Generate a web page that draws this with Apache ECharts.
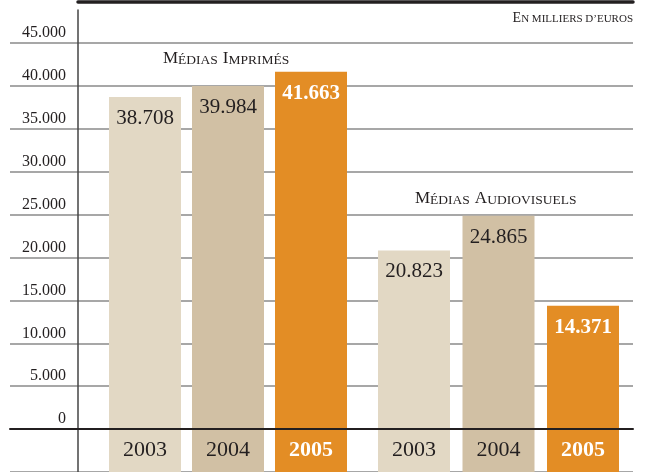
<!DOCTYPE html>
<html>
<head>
<meta charset="utf-8">
<script src="https://cdn.jsdelivr.net/npm/echarts@6/dist/echarts.min.js"></script>
<style>
  html, body { margin: 0; padding: 0; background: #fff; }
  #chart { width: 649px; height: 472px; }
</style>
</head>
<body>
<div id="chart"></div>
<script>
  // valeurs en milliers d'euros
  const years = ['2003', '2004', '2005']
  const imprimes = [38708, 39984, 41663]
  const audiovisuels = [20823, 24865, 14371]
  const below = [-5000, -5000, -5000]   // bande sous la ligne 0 qui porte les années
  const barColors = ['#E2D8C4', '#D1C0A4', '#E38D25']
  const labelColors = ['#231f20', '#231f20', '#ffffff']
  const labelWeights = ['normal', 'normal', 'bold']

  const serif = 'Liberation Serif'
  let chart = echarts.init(document.getElementById('chart'))

  function fmtThousands(v) {
    return String(v).replace(/\B(?=(\d{3})+(?!\d))/g, '.')
  }

  function barData(values) {
    return values.map((v, i) => ({
      value: v,
      itemStyle: { color: barColors[i] },
      label: { color: labelColors[i], fontWeight: labelWeights[i] }
    }))
  }

  function groupSeries(idx, values) {
    return [
      {
        type: 'bar', xAxisIndex: idx, yAxisIndex: idx, stack: 'g' + idx,
        barWidth: 72,
        data: barData(values),
        label: {
          show: true, position: 'insideTop', distance: 11,
          fontFamily: serif, fontSize: 21,
          formatter: p => fmtThousands(p.value)
        }
      },
      {
        type: 'bar', xAxisIndex: idx, yAxisIndex: idx, stack: 'g' + idx,
        barWidth: 72,
        data: barData(below),
        label: {
          show: true, position: 'inside',
          fontFamily: serif, fontSize: 22,
          formatter: '{b}'
        }
      }
    ]
  }

  const hiddenCat = gi => ({
    type: 'category', gridIndex: gi, data: years, show: false
  })
  const hiddenVal = gi => ({
    type: 'value', gridIndex: gi, min: -5000, max: 45000, show: false
  })

  // petites capitales : grande capitale + reste en corps réduit
  function smallCaps(cap, small, lh) {
    return {
      c: { fontFamily: serif, fontSize: cap, fontWeight: 'normal', color: '#231f20', lineHeight: lh, verticalAlign: 'bottom' },
      s: { fontFamily: serif, fontSize: small, fontWeight: 'normal', color: '#231f20', lineHeight: lh, verticalAlign: 'bottom' }
    }
  }

  chart.setOption({
    animation: false,
    title: [
      { text: '{c|E}{s|N MILLIERS D’EUROS}', right: 16, top: 9, padding: 0,
        textStyle: { fontWeight: 'normal', rich: smallCaps(14, 11, 16) } },
      { text: '{c|M}{s|ÉDIAS} {c|I}{s|MPRIMÉS}', left: 163, top: 47, padding: 0,
        textStyle: { fontWeight: 'normal', rich: smallCaps(17, 13.5, 20) } },
      { text: '{c|M}{s|ÉDIAS} {c|A}{s|UDIOVISUELS}', left: 415, top: 187, padding: 0,
        textStyle: { fontWeight: 'normal', rich: smallCaps(17, 13.5, 20) } }
    ],
    grid: [
      { left: 10, right: 16, top: 43, bottom: 0 },      // cadre : lignes + graduations
      { left: 103.5, width: 249, top: 43, bottom: 0 },  // médias imprimés
      { left: 371.75, width: 253.5, top: 43, bottom: 0 }, // médias audiovisuels
      { left: 78, right: 16, top: 10, bottom: 0 }       // filet haut + axe vertical
    ],
    xAxis: [
      {
        type: 'category', gridIndex: 0, data: [], z: 5,
        axisLine: { show: true, onZero: true, lineStyle: { color: '#231f20', width: 2 } },
        axisTick: { show: false }, axisLabel: { show: false }
      },
      hiddenCat(1),
      hiddenCat(2),
      {
        type: 'category', gridIndex: 3, data: [], position: 'top', offset: 8,
        axisLine: { show: true, onZero: false, lineStyle: { color: '#231f20', width: 3.5 } },
        axisTick: { show: false }, axisLabel: { show: false }
      }
    ],
    yAxis: [
      {
        type: 'value', gridIndex: 0, min: -5000, max: 45000, interval: 5000,
        axisLine: { show: false }, axisTick: { show: false },
        axisLabel: {
          inside: true, margin: 56, align: 'right', verticalAlign: 'bottom',
          padding: [0, 0, 2, 0],
          fontFamily: serif, fontSize: 16, color: '#231f20',
          formatter: v => v < 0 ? '' : (v === 0 ? '0' : fmtThousands(v))
        },
        splitLine: { show: true, lineStyle: { color: '#8a8a8a', width: 1.5 } }
      },
      hiddenVal(1),
      hiddenVal(2),
      {
        type: 'value', gridIndex: 3, min: 0, max: 1,
        axisLine: { show: true, lineStyle: { color: '#444', width: 1.5 } },
        axisTick: { show: false }, axisLabel: { show: false }, splitLine: { show: false }
      }
    ],
    series: [
      ...groupSeries(1, imprimes),
      ...groupSeries(2, audiovisuels)
    ]
  })
</script>
</body>
</html>
